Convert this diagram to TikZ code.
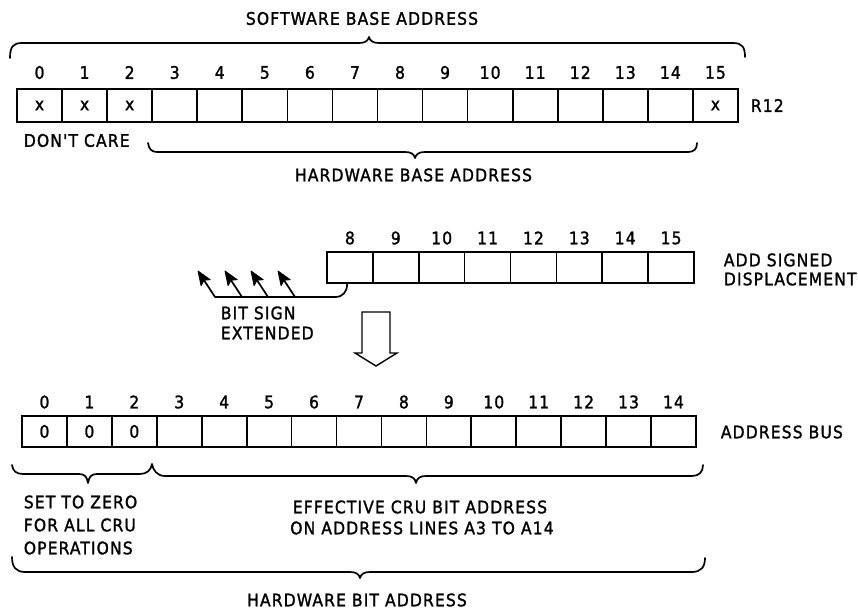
\documentclass[tikz,border=0pt]{standalone}
\usepackage{fontspec}
\setmainfont{DejaVu Sans Condensed}[LetterSpace=6.5,FakeBold=1.5,Ligatures=TeXOff]
\usetikzlibrary{arrows.meta,calc}
\begin{document}
\begin{tikzpicture}[x=1pt,y=-1pt,line width=1.7pt,
  every node/.style={font=\fontsize{17.3}{20}\selectfont,inner sep=0pt},
  tcell/.style={draw,minimum width=45.06pt,minimum height=32.5pt},
  mcell/.style={draw,minimum width=45.875pt,minimum height=31pt},
  bcell/.style={draw,minimum width=44.93pt,minimum height=31pt},
  brace/.style={line cap=round,line join=round},
  headfill/.style={line width=0.8pt,line join=round},
  txt/.style={anchor=west}]
\useasboundingbox (0,0) rectangle (858,609);

% ---------- R12 register ----------
\node (swt) at (362,18.5) {SOFTWARE BASE ADDRESS};
\foreach \i in {0,...,15}{
  \node[tcell] (t\i) at ({17+45.06*(\i+0.5)},105.5) {\ifnum\i<3 x\fi\ifnum\i=15 x\fi};
  \node (tn\i) at ({17+45.06*(\i+0.5)},72.5) {\i};
}
\node[txt] (r12) at (750,105.5) {R12};
\node[txt] (dc) at (23,140.5) {DON'T CARE};
\node (hwb) at (413.5,175) {HARDWARE BASE ADDRESS};

\draw[brace] (10,58) .. controls (10,47) and (13,43) .. (22,43) -- (359,43)
  .. controls (365,43) and (368,41) .. (369,37)
  .. controls (370,41) and (373,43) .. (379,43) -- (733,43)
  .. controls (742,43) and (745,47) .. (745,57);
\draw[brace] (148,143) .. controls (149,149) and (151,152) .. (158,152) -- (405,152)
  .. controls (411,152) and (414,154) .. (415,158)
  .. controls (416,154) and (419,152) .. (425,152) -- (688,152)
  .. controls (694,152) and (697,149) .. (697,143);

% ---------- displacement register ----------
\foreach \i in {8,...,15}{
  \node[mcell] (m\i) at ({327+45.875*(\i-8+0.5)},267.5) {};
  \node (mn\i) at ({327+45.875*(\i-8+0.5)},238) {\i};
}
\node[txt] (add1) at (723,260) {ADD SIGNED};
\node[txt] (add2) at (723,279) {DISPLACEMENT};

\coordinate (sgs) at ($(m8.south west)+(21,0)$);
\coordinate (sg0) at (215,297);
\draw[brace] (sgs) .. controls (347,292) and (343,297) .. (335,297) -- (sg0);
\foreach \k/\xx in {0/215,1/242,2/268,3/295}{
  \coordinate (sg\k) at (\xx,297);
  \coordinate (st\k) at ({\xx-17},271);
  \draw (sg\k) -- ($(st\k)!8pt!(sg\k)$);
  \filldraw[headfill] (st\k) -- ($(st\k)!14pt!(sg\k)!5.5pt!90:(st\k)$)
    -- ($(st\k)!11pt!(sg\k)$) -- ($(st\k)!14pt!(sg\k)!5.5pt!-90:(st\k)$) -- cycle;
}
\node[txt] (bs1) at (220,313) {BIT SIGN};
\node[txt] (bs2) at (220,333) {EXTENDED};

% hollow arrow
\draw[line width=1.4pt,line join=miter] (362,312) -- (390,312) -- (390,353) -- (397,353) -- (376,366)
  -- (355,353) -- (362,353) -- cycle;

% ---------- address bus ----------
\foreach \i in {0,...,14}{
  \node[bcell] (b\i) at ({22+44.93*(\i+0.5)},431.5) {\ifnum\i<3 0\fi};
  \node (bn\i) at ({22+44.93*(\i+0.5)},402) {\i};
}
\node[txt] (abus) at (720,432) {ADDRESS BUS};

\draw[brace] (12,465) .. controls (13,471) and (16,474) .. (23,474) -- (79,474)
  .. controls (85,474) and (87,477) .. (88,483)
  .. controls (89,477) and (91,474) .. (97,474) -- (140,474)
  .. controls (147,474) and (151,470) .. (152,464)
  .. controls (153,470) and (157,476) .. (165,476) -- (406,476)
  .. controls (412,476) and (415,478) .. (416,483)
  .. controls (417,478) and (420,476) .. (426,476) -- (692,476)
  .. controls (699,476) and (703,472) .. (703,465);
\draw[brace] (12,557) .. controls (12,567) and (16,572) .. (25,572) -- (350,572)
  .. controls (356,572) and (359,574) .. (360,578)
  .. controls (361,574) and (364,572) .. (370,572) -- (692,572)
  .. controls (701,572) and (705,567) .. (705,558);

\node[txt] (sz1) at (23,502) {SET TO ZERO};
\node[txt] (sz2) at (23,525) {FOR ALL CRU};
\node[txt] (sz3) at (23,548) {OPERATIONS};
\node (ef1) at (420,507) {EFFECTIVE CRU BIT ADDRESS};
\node (ef2) at (422,528) {ON ADDRESS LINES A3 TO A14};
\node (hba) at (357,600) {HARDWARE BIT ADDRESS};
\end{tikzpicture}
\end{document}
